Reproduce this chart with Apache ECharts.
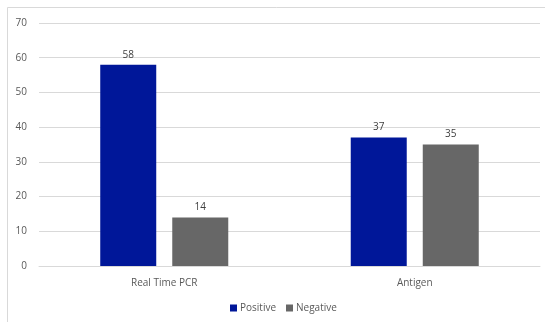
<!DOCTYPE html>
<html>
<head>
<meta charset="utf-8">
<script src="https://cdn.jsdelivr.net/npm/echarts@6/dist/echarts.min.js"></script>
<style>
  html, body { margin: 0; padding: 0; background: #fff; }
  #chart { width: 545px; height: 322px; }
</style>
</head>
<body>
<div id="chart"></div>
<script>
// Test results by method
const categories = ['Real Time PCR', 'Antigen'];
const positive = [58, 37];
const negative = [14, 35];
const yTicks = [0, 10, 20, 30, 40, 50, 60, 70];

const FONT = '"Open Sans", "Liberation Sans", sans-serif';
const TEXT = '#595959';

const chart = echarts.init(document.getElementById('chart'), null, { renderer: 'canvas' });

chart.setOption({
  animation: false,
  backgroundColor: '#ffffff',
  textStyle: { fontFamily: FONT },
  graphic: [{
    type: 'rect',
    shape: { x: 7.5, y: 7.5, width: 700, height: 500 },
    style: { fill: 'none', stroke: '#d9d9d9', lineWidth: 1 },
    silent: true,
    z: -1
  }],
  grid: { left: 39, right: 5, top: 23, bottom: 56, containLabel: false },
  legend: {
    top: 303,
    left: 230,
    padding: 0,
    itemWidth: 7,
    itemHeight: 7,
    itemGap: 10,
    icon: 'rect',
    textStyle: { color: TEXT, fontSize: 10, fontFamily: FONT, padding: [0, 0, 0, -2] },
    data: ['Positive', 'Negative']
  },
  xAxis: {
    type: 'category',
    data: categories,
    axisLine: { show: true, lineStyle: { color: '#d9d9d9', width: 1 } },
    axisTick: { show: false },
    axisLabel: { color: TEXT, fontSize: 10, fontFamily: FONT, margin: 12 }
  },
  yAxis: {
    type: 'value',
    min: yTicks[0],
    max: yTicks[yTicks.length - 1],
    interval: 10,
    axisLine: { show: false },
    axisTick: { show: false },
    axisLabel: { color: TEXT, fontSize: 10, fontFamily: FONT, margin: 12 },
    splitLine: { lineStyle: { color: '#d9d9d9', width: 1 } }
  },
  series: [
    {
      name: 'Positive',
      type: 'bar',
      data: positive,
      barWidth: 56,
      barGap: '28.6%',
      itemStyle: { color: '#001799' },
      label: { show: true, position: 'top', distance: 5, color: '#404040', fontSize: 10, fontFamily: FONT }
    },
    {
      name: 'Negative',
      type: 'bar',
      data: negative,
      barWidth: 56,
      barGap: '28.6%',
      itemStyle: { color: '#676767' },
      label: { show: true, position: 'top', distance: 5, color: '#404040', fontSize: 10, fontFamily: FONT }
    }
  ]
});
</script>
</body>
</html>
